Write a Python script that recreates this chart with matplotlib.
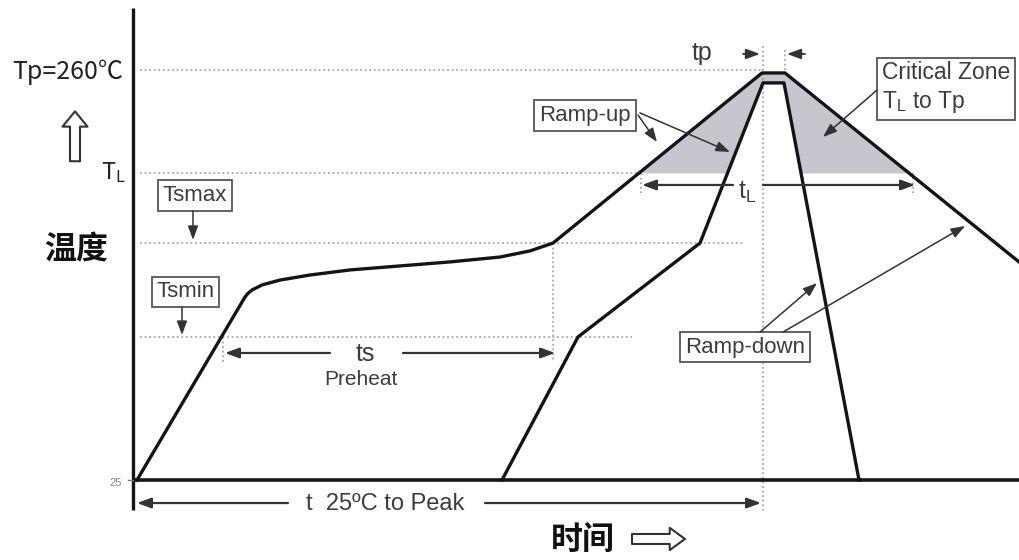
import numpy as np
import matplotlib
matplotlib.use('Agg')
import matplotlib.pyplot as plt

plt.rcParams['font.family'] = ['Liberation Sans', 'DejaVu Sans']

# 回流焊温度曲线示意图（非等比例）：时间 s / 温度 ℃
OUTER_T = [0, 54, 55.5, 57.5, 62.5, 71.5, 86.5, 106.5, 131.5, 156.5, 181.5, 196.5, 208, 312.5, 324, 441]
OUTER_C = [25, 129.9, 132.0, 133.9, 136.8, 139.6, 142.5, 145.4, 147.7, 150.0, 152.8, 156.3, 160.8, 258.3, 258.3, 150.0]
INNER_T = [182.5, 220.5, 281.5, 313, 323.5, 361]
INNER_C = [25, 107, 160.8, 252.6, 252.6, 25]

T_PEAK = 260
T_LIQ = 201
TS_MAX = 160.8
TS_MIN = 107
T_ROOM = 25

# 时间区间
TS_RANGE = (44, 208)
TL_RANGE = (252, 388)
TP_RANGE = (312.5, 324)
PEAK_TIME = 312

INK = '#141414'
TXT = '#3c3c3c'
GRAY = '#c6c6ce'

fig = plt.figure(figsize=(10.19, 5.6), dpi=100)
ax = fig.add_axes([0, 0, 1, 1])
ax.set_xlim(-68.5, 441)
ax.set_ylim(-20.85, 300.12)
ax.axis('off')

# 临界区阴影 (T_L 到 Tp)
tt = np.linspace(0, 441, 3000)
outer = np.interp(tt, OUTER_T, OUTER_C)
inner = np.interp(tt, INNER_T, INNER_C, left=T_ROOM, right=T_ROOM)
lower = np.maximum(inner, T_LIQ)
ax.fill_between(tt, lower, outer, where=outer > lower, color=GRAY, lw=0, interpolate=True)

# 虚线
dot = dict(color='#999999', lw=1.1, ls=(0, (1.2, 1.8)))
ax.plot([1.5, TP_RANGE[0]], [T_PEAK, T_PEAK], **dot)
ax.plot([1.5, TL_RANGE[0]], [T_LIQ, T_LIQ], **dot)
ax.plot([1.5, 304], [TS_MAX, TS_MAX], **dot)
ax.plot([1.5, 247.5], [TS_MIN, TS_MIN], **dot)
ax.plot([TS_RANGE[1]] * 2, [TS_MAX, 92.6], **dot)
ax.plot([TS_RANGE[0] - 1] * 2, [TS_MIN, 92], **dot)
ax.plot([PEAK_TIME + 1] * 2, [274, 6], **dot)
ax.plot([TP_RANGE[1]] * 2, [271.5, 258.3], **dot)
ax.plot([TL_RANGE[0]] * 2, [T_LIQ, 188], **dot)
ax.plot([TL_RANGE[1]] * 2, [T_LIQ, 188], **dot)

# 坐标轴
ax.plot([-2, 441], [T_ROOM, T_ROOM], color=INK, lw=2.6, solid_capstyle='butt')
ax.plot([-2, -2], [7.8, 295.5], color=INK, lw=2.4, solid_capstyle='butt')
ax.plot([-4.5, -2], [T_ROOM, T_ROOM], color='#777777', lw=1)

# 曲线
ax.plot(OUTER_T, OUTER_C, color=INK, lw=2.4, solid_joinstyle='round')
ax.plot(INNER_T, INNER_C, color=INK, lw=2.4, solid_joinstyle='round')


def arrow(x0, y0, x1, y1, lw=1.3):
    ax.annotate('', xy=(x1, y1), xytext=(x0, y0),
                arrowprops=dict(arrowstyle='-|>,head_length=0.6,head_width=0.22',
                                color='#333333', lw=lw, shrinkA=0, shrinkB=0,
                                mutation_scale=14))


def box(x, y, s, **kw):
    ax.text(x, y, s, fontsize=16, color=TXT, ha='center', va='center',
            bbox=dict(boxstyle='square,pad=0.22', fc='white', ec='#555555', lw=1.3), **kw)


# ts Preheat
arrow(96.5, 97.8, TS_RANGE[0], 97.8, lw=1.6)
arrow(133, 97.8, TS_RANGE[1] + 1, 97.8, lw=1.6)
ax.text(114, 97.5, 'ts', fontsize=18, color=TXT, ha='center', va='center')
ax.text(112, 82.5, 'Preheat', fontsize=15, color=TXT, ha='center', va='center')

# t 25ºC to Peak
arrow(75.5, 11.8, 0, 11.8, lw=1.6)
arrow(174, 11.8, PEAK_TIME, 11.8, lw=1.6)
ax.text(124, 11.3, 't  25ºC to Peak', fontsize=17, color=TXT, ha='center', va='center')

# tL
arrow(298, 194.1, TL_RANGE[0] + 0.5, 194.1, lw=1.6)
arrow(313, 194.1, TL_RANGE[1] + 1, 194.1, lw=1.6)
ax.text(305, 190, r'$\mathregular{t_L}$', fontsize=18, color=TXT, ha='center', va='center')

# tp
ax.text(282.5, 270, 'tp', fontsize=18, color=TXT, ha='center', va='center')
arrow(303, 269.2, 311.5, 269.2)
arrow(334, 269.2, 325, 269.2)

# 标注框
box(224, 233.9, 'Ramp-up')
arrow(250.5, 234.2, 260, 218.7, lw=1.1)
arrow(251.5, 235.4, 296.5, 213, lw=1.1)

ax.text(372.5, 249.7, 'Critical Zone\n' + r'$\mathregular{T_L}$ to Tp', fontsize=16.5,
        color=TXT, ha='left', va='center', linespacing=1.25,
        bbox=dict(boxstyle='square,pad=0.22', fc='white', ec='#555555', lw=1.3))
arrow(370, 248.5, 343, 221.6, lw=1.1)

box(304, 101.2, 'Ramp-down')
arrow(311.5, 109.8, 340, 137.9, lw=1.1)
arrow(323, 109.8, 414, 170.6, lw=1.1)

box(29, 188.1, 'Tsmax')
arrow(28, 179.2, 28, 162.6, lw=1.1)
box(24.25, 132.8, 'Tsmin')
arrow(22.5, 124.2, 22.5, 108.1, lw=1.1)

# 纵轴标签
cjk = ['Noto Sans CJK SC', 'DejaVu Sans']
ax.text(-7, 258.9, 'Tp=260℃', fontsize=18, family=cjk, color='#222222', ha='right', va='center')
ax.text(-5.5, 201, r'$\mathregular{T_L}$', fontsize=17, family=cjk, color='#222222', ha='right', va='center')
ax.text(-30.5, 156.8, '温度', fontsize=23, family=cjk, weight='bold', color='#111111', ha='center', va='center')
ax.text(-7.5, 23.3, '25', fontsize=8, color='#888888', ha='right', va='center')
ax.annotate('', xy=(-31, 236.3), xytext=(-31, 207.7),
            arrowprops=dict(arrowstyle='simple,head_length=0.55,head_width=0.9,tail_width=0.36',
                            fc='white', ec='#333333', lw=1.5, shrinkA=0, shrinkB=0,
                            mutation_scale=20))

# 横轴标签
ax.text(223, -9.4, '时间', fontsize=23, family=cjk, weight='bold', color='#111111', ha='center', va='center')
ax.annotate('', xy=(274, -8.8), xytext=(247.5, -8.8),
            arrowprops=dict(arrowstyle='simple,head_length=0.55,head_width=0.8,tail_width=0.36',
                            fc='white', ec='#333333', lw=1.5, shrinkA=0, shrinkB=0,
                            mutation_scale=20))

fig.savefig('out.png', dpi=100)
